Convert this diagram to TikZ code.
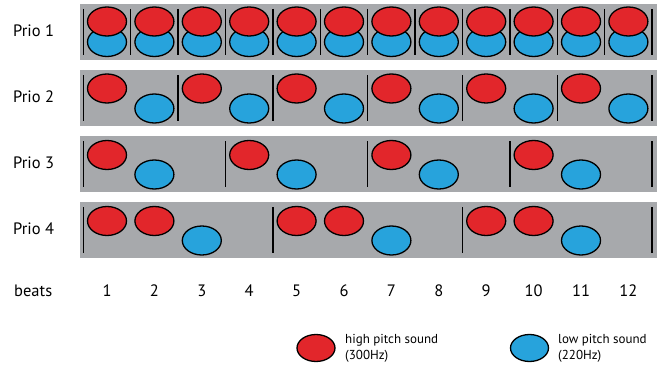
\documentclass[tikz,border=0pt]{standalone}
\usepackage{fontspec}
\setmainfont{PT Sans}
\usetikzlibrary{shapes.geometric}
\definecolor{hired}{HTML}{E2262B}
\definecolor{loblue}{HTML}{27A3DC}
\definecolor{bargray}{HTML}{A7A9AC}
\tikzset{
  bar/.style={fill=bargray, draw=none},
  note/.style={ellipse, draw=black, line width=1.3pt, minimum width=39pt, minimum height=29pt, inner sep=0pt},
  hinote/.style={note, fill=hired},
  lonote/.style={note, fill=loblue},
  barline/.style={line width=1.4pt, black},
  prio/.style={anchor=west, font=\fontsize{16.5}{19}\selectfont, inner sep=0pt},
  beatnum/.style={font=\fontsize{16.5}{19}\selectfont, inner sep=0pt},
  legtext/.style={anchor=west, align=left, font=\fontsize{13}{16}\selectfont, inner sep=0pt}
}
\begin{document}
\begin{tikzpicture}[x=1pt, y=-1pt]
\useasboundingbox (0,0) rectangle (666,369);
% bars
\foreach \r/\t in {1/4, 2/70, 3/136, 4/202} {
  \node[bar, minimum width=577pt, minimum height=56pt, inner sep=0pt, anchor=north west] (bar\r) at (80,\t) {};
  \node[prio] (lab\r) at (13,\t+27) {Prio \r};
}
% Prio 1: every beat high + low
\foreach \k in {1,...,12} {
  \pgfmathsetmacro{\bx}{107+47.4*(\k-1)}
  \node[lonote] (p1l\k) at (\bx,42) {};
  \node[hinote] (p1h\k) at (\bx,21.5) {};
}
\foreach \k in {0,...,12} {
  \pgfmathsetmacro{\lx}{83.3+47.4*\k}
  \coordinate (p1a\k) at (\lx,9);
  \coordinate (p1b\k) at (\lx,55);
  \draw[barline] (p1a\k) -- (p1b\k);
}
% Prio 2
\foreach \k in {1,3,5,7,9,11} {
  \pgfmathsetmacro{\bx}{107+47.4*(\k-1)}
  \pgfmathsetmacro{\cx}{107+47.4*\k}
  \node[hinote] (p2h\k) at (\bx,88.5) {};
  \node[lonote] (p2l\k) at (\cx,108.5) {};
}
\foreach \k in {0,2,...,12} {
  \pgfmathsetmacro{\lx}{83.3+47.4*\k}
  \coordinate (p2a\k) at (\lx,75);
  \coordinate (p2b\k) at (\lx,121);
  \draw[barline] (p2a\k) -- (p2b\k);
}
% Prio 3
\foreach \k in {1,4,7,10} {
  \pgfmathsetmacro{\bx}{107+47.4*(\k-1)}
  \pgfmathsetmacro{\cx}{107+47.4*\k}
  \node[hinote] (p3h\k) at (\bx,155) {};
  \node[lonote] (p3l\k) at (\cx,174.5) {};
}
\foreach \k in {0,3,6,9,12} {
  \pgfmathsetmacro{\lx}{83.3+47.4*\k}
  \coordinate (p3a\k) at (\lx,141);
  \coordinate (p3b\k) at (\lx,187);
  \draw[barline] (p3a\k) -- (p3b\k);
}
% Prio 4
\foreach \k in {1,5,9} {
  \pgfmathsetmacro{\bx}{107+47.4*(\k-1)}
  \pgfmathsetmacro{\cx}{107+47.4*\k}
  \pgfmathsetmacro{\dx}{107+47.4*(\k+1)}
  \node[hinote] (p4h\k) at (\bx,221) {};
  \node[hinote] (p4i\k) at (\cx,221) {};
  \node[lonote] (p4l\k) at (\dx,240.5) {};
}
\foreach \k in {0,4,8,12} {
  \pgfmathsetmacro{\lx}{83.3+47.4*\k}
  \coordinate (p4a\k) at (\lx,207);
  \coordinate (p4b\k) at (\lx,253);
  \draw[barline] (p4a\k) -- (p4b\k);
}
% beats
\node[prio] (beats) at (14,291) {beats};
\foreach \k in {1,...,12} {
  \pgfmathsetmacro{\bx}{107+47.4*(\k-1)}
  \node[beatnum] (b\k) at (\bx,291) {\k};
}
% legend
\node[hinote, minimum width=38pt, minimum height=27pt] (leghi) at (316,348) {};
\node[legtext] (leghit) at (345,348) {high pitch sound\\(300Hz)};
\node[lonote, minimum width=38pt, minimum height=27pt] (leglo) at (529.5,348) {};
\node[legtext] (leglot) at (558,348) {low pitch sound\\(220Hz)};
\end{tikzpicture}
\end{document}
